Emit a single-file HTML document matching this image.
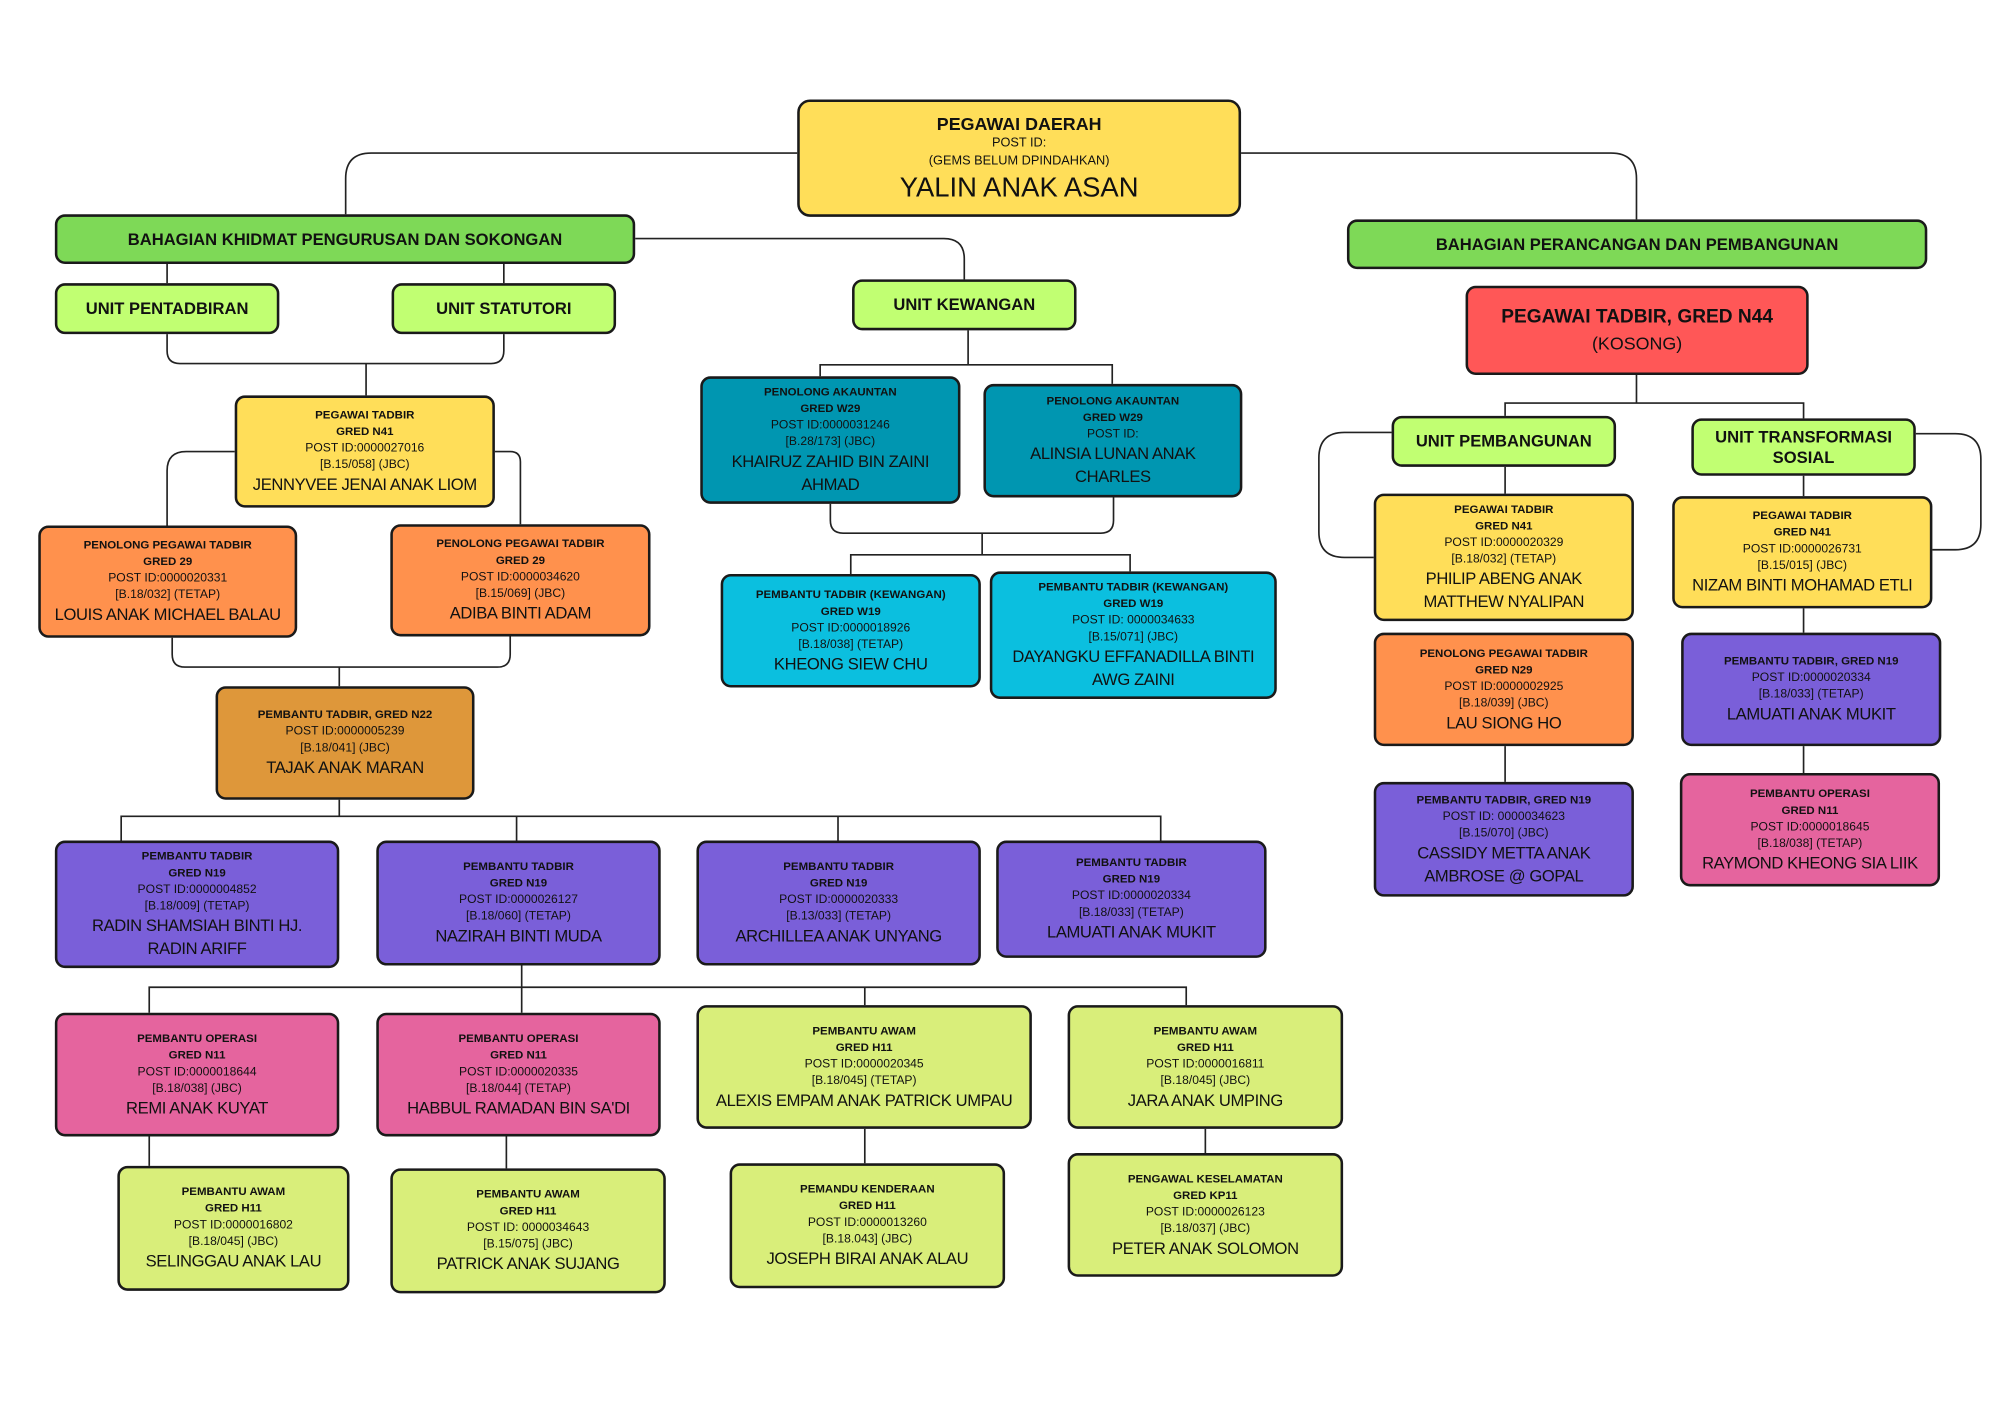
<!DOCTYPE html>
<html><head><meta charset="utf-8">
<style>
html,body{margin:0;padding:0;background:#fff;}
body{width:2000px;height:1414px;overflow:hidden;position:relative;}
#w{position:absolute;left:0;top:0;width:1568px;height:1109px;transform:scale(1.27551);transform-origin:0 0;font-family:"Liberation Sans",sans-serif;color:#111;}
svg{position:absolute;left:0;top:0;}
.b{position:absolute;box-sizing:border-box;border:2px solid #1a1a1a;border-radius:8px;display:flex;flex-direction:column;align-items:center;justify-content:center;text-align:center;line-height:13px;font-size:9.5px;}
.b b{font-size:9px;}
.b .n{font-size:13px;line-height:18px;letter-spacing:-0.3px;}
.h{font-weight:bold;font-size:13px;line-height:16px;}
.y{background:#ffde59}.g{background:#7ed957}.l{background:#c1ff72}.r{background:#ff5757}
.o{background:#ff914d}.br{background:#de973a}.p{background:#7a5fd9}.k{background:#e5649e}
.pg{background:#d9ee7a}.t{background:#0096b1}.c{background:#0bbfdf}
</style></head><body><div id="w">
<svg width="1568" height="1109" fill="none" stroke="#222" stroke-width="1.3">
<path d="M625 120 H291 Q271 120 271 140 V168"/>
<path d="M973 120 H1263 Q1283 120 1283 140 V172"/>
<path d="M498 187 H740 Q756 187 756 203 V219"/>
<path d="M131 207 V222 M395 207 V222"/>
<path d="M131 262 V275 Q131 285 141 285 H385 Q395 285 395 275 V262 M287 285 V310"/>
<path d="M184 354 H146 Q131 354 131 369 V412 M388 354 H400 Q408 354 408 362 V411"/>
<path d="M135 500 V513 Q135 523 145 523 H390 Q400 523 400 513 V499 M266 523 V538"/>
<path d="M266 627 V640 M95 659 V640 H910 V659 M405 640 V659 M657 640 V659"/>
<path d="M409 757 V774 M117 794 V774 H930 V788 M409 774 V794 M678 774 V788"/>
<path d="M117 891 V914 M397 891 V916 M678 885 V912 M945 885 V904"/>
<path d="M759 259 V286 M643 295 V286 H872 V301"/>
<path d="M651 395 V408 Q651 418 661 418 H863 Q873 418 873 408 V390 M770 418 V435 M667 450 V435 H886 V448"/>
<path d="M1283 294 V316 M1180 326 V316 H1414 V328"/>
<path d="M1091 339 H1054 Q1034 339 1034 359 V417 Q1034 437 1054 437 H1077"/>
<path d="M1502 340 H1533 Q1553 340 1553 360 V411 Q1553 431 1533 431 H1515"/>
<path d="M1180 366 V387 M1414 373 V389 M1180 585 V613 M1414 477 V496 M1414 585 V606"/>
</svg>

<div class="b y" style="left:625px;top:78px;width:348px;height:92px;border-radius:10px"><div style="font-weight:bold;font-size:14px;line-height:18px">PEGAWAI DAERAH</div><div style="font-size:10px;line-height:14px">POST ID:</div><div style="font-size:10px;line-height:14px">(GEMS BELUM DPINDAHKAN)</div><div style="font-size:21.5px;line-height:26px">YALIN ANAK ASAN</div></div>

<div class="b g h" style="left:43px;top:168px;width:455px;height:39px">BAHAGIAN KHIDMAT PENGURUSAN DAN SOKONGAN</div>
<div class="b g h" style="left:1056px;top:172px;width:455px;height:39px">BAHAGIAN PERANCANGAN DAN PEMBANGUNAN</div>
<div class="b l h" style="left:43px;top:222px;width:176px;height:40px">UNIT PENTADBIRAN</div>
<div class="b l h" style="left:307px;top:222px;width:176px;height:40px">UNIT STATUTORI</div>
<div class="b l h" style="left:668px;top:219px;width:176px;height:40px">UNIT KEWANGAN</div>
<div class="b r" style="left:1149px;top:224px;width:269px;height:70px"><div style="font-weight:bold;font-size:15px;line-height:20px">PEGAWAI TADBIR, GRED N44</div><div style="font-size:14px;line-height:20px">(KOSONG)</div></div>
<div class="b l h" style="left:1091px;top:326px;width:176px;height:40px">UNIT PEMBANGUNAN</div>
<div class="b l h" style="left:1326px;top:328px;width:176px;height:45px">UNIT TRANSFORMASI<br>SOSIAL</div>

<div class="b y" style="left:184px;top:310px;width:204px;height:88px"><b>PEGAWAI TADBIR</b><b>GRED N41</b><div>POST ID:0000027016</div><div>[B.15/058] (JBC)</div><div class="n">JENNYVEE JENAI ANAK LIOM</div></div>
<div class="b o" style="left:30px;top:412px;width:203px;height:88px"><b>PENOLONG PEGAWAI TADBIR</b><b>GRED 29</b><div>POST ID:0000020331</div><div>[B.18/032] (TETAP)</div><div class="n">LOUIS ANAK MICHAEL BALAU</div></div>
<div class="b o" style="left:306px;top:411px;width:204px;height:88px"><b>PENOLONG PEGAWAI TADBIR</b><b>GRED 29</b><div>POST ID:0000034620</div><div>[B.15/069] (JBC)</div><div class="n">ADIBA BINTI ADAM</div></div>
<div class="b br" style="left:169px;top:538px;width:203px;height:89px"><b>PEMBANTU TADBIR, GRED N22</b><div>POST ID:0000005239</div><div>[B.18/041] (JBC)</div><div class="n">TAJAK ANAK MARAN</div></div>

<div class="b p" style="left:43px;top:659px;width:223px;height:100px"><b>PEMBANTU TADBIR</b><b>GRED N19</b><div>POST ID:0000004852</div><div>[B.18/009] (TETAP)</div><div class="n">RADIN SHAMSIAH BINTI HJ.<br>RADIN ARIFF</div></div>
<div class="b p" style="left:295px;top:659px;width:223px;height:98px"><b>PEMBANTU TADBIR</b><b>GRED N19</b><div>POST ID:0000026127</div><div>[B.18/060] (TETAP)</div><div class="n">NAZIRAH BINTI MUDA</div></div>
<div class="b p" style="left:546px;top:659px;width:223px;height:98px"><b>PEMBANTU TADBIR</b><b>GRED N19</b><div>POST ID:0000020333</div><div>[B.13/033] (TETAP)</div><div class="n">ARCHILLEA ANAK UNYANG</div></div>
<div class="b p" style="left:781px;top:659px;width:212px;height:92px"><b>PEMBANTU TADBIR</b><b>GRED N19</b><div>POST ID:0000020334</div><div>[B.18/033] (TETAP)</div><div class="n">LAMUATI ANAK MUKIT</div></div>

<div class="b k" style="left:43px;top:794px;width:223px;height:97px"><b>PEMBANTU OPERASI</b><b>GRED N11</b><div>POST ID:0000018644</div><div>[B.18/038] (JBC)</div><div class="n">REMI ANAK KUYAT</div></div>
<div class="b k" style="left:295px;top:794px;width:223px;height:97px"><b>PEMBANTU OPERASI</b><b>GRED N11</b><div>POST ID:0000020335</div><div>[B.18/044] (TETAP)</div><div class="n">HABBUL RAMADAN BIN SA'DI</div></div>
<div class="b pg" style="left:546px;top:788px;width:263px;height:97px"><b>PEMBANTU AWAM</b><b>GRED H11</b><div>POST ID:0000020345</div><div>[B.18/045] (TETAP)</div><div class="n">ALEXIS EMPAM ANAK PATRICK UMPAU</div></div>
<div class="b pg" style="left:837px;top:788px;width:216px;height:97px"><b>PEMBANTU AWAM</b><b>GRED H11</b><div>POST ID:0000016811</div><div>[B.18/045] (JBC)</div><div class="n">JARA ANAK UMPING</div></div>

<div class="b pg" style="left:92px;top:914px;width:182px;height:98px"><b>PEMBANTU AWAM</b><b>GRED H11</b><div>POST ID:0000016802</div><div>[B.18/045] (JBC)</div><div class="n">SELINGGAU ANAK LAU</div></div>
<div class="b pg" style="left:306px;top:916px;width:216px;height:98px"><b>PEMBANTU AWAM</b><b>GRED H11</b><div>POST ID: 0000034643</div><div>[B.15/075] (JBC)</div><div class="n">PATRICK ANAK SUJANG</div></div>
<div class="b pg" style="left:572px;top:912px;width:216px;height:98px"><b>PEMANDU KENDERAAN</b><b>GRED H11</b><div>POST ID:0000013260</div><div>[B.18.043] (JBC)</div><div class="n">JOSEPH BIRAI ANAK ALAU</div></div>
<div class="b pg" style="left:837px;top:904px;width:216px;height:97px"><b>PENGAWAL KESELAMATAN</b><b>GRED KP11</b><div>POST ID:0000026123</div><div>[B.18/037] (JBC)</div><div class="n">PETER ANAK SOLOMON</div></div>

<div class="b t" style="left:549px;top:295px;width:204px;height:100px"><b>PENOLONG AKAUNTAN</b><b>GRED W29</b><div>POST ID:0000031246</div><div>[B.28/173] (JBC)</div><div class="n">KHAIRUZ ZAHID BIN ZAINI<br>AHMAD</div></div>
<div class="b t" style="left:771px;top:301px;width:203px;height:89px"><b>PENOLONG AKAUNTAN</b><b>GRED W29</b><div>POST ID:</div><div class="n">ALINSIA LUNAN ANAK<br>CHARLES</div></div>
<div class="b c" style="left:565px;top:450px;width:204px;height:89px"><b>PEMBANTU TADBIR (KEWANGAN)</b><b>GRED W19</b><div>POST ID:0000018926</div><div>[B.18/038] (TETAP)</div><div class="n">KHEONG SIEW CHU</div></div>
<div class="b c" style="left:776px;top:448px;width:225px;height:100px"><b>PEMBANTU TADBIR (KEWANGAN)</b><b>GRED W19</b><div>POST ID: 0000034633</div><div>[B.15/071] (JBC)</div><div class="n">DAYANGKU EFFANADILLA BINTI<br>AWG ZAINI</div></div>

<div class="b y" style="left:1077px;top:387px;width:204px;height:100px"><b>PEGAWAI TADBIR</b><b>GRED N41</b><div>POST ID:0000020329</div><div>[B.18/032] (TETAP)</div><div class="n">PHILIP ABENG ANAK<br>MATTHEW NYALIPAN</div></div>
<div class="b y" style="left:1311px;top:389px;width:204px;height:88px"><b>PEGAWAI TADBIR</b><b>GRED N41</b><div>POST ID:0000026731</div><div>[B.15/015] (JBC)</div><div class="n">NIZAM BINTI MOHAMAD ETLI</div></div>
<div class="b o" style="left:1077px;top:496px;width:204px;height:89px"><b>PENOLONG PEGAWAI TADBIR</b><b>GRED N29</b><div>POST ID:0000002925</div><div>[B.18/039] (JBC)</div><div class="n">LAU SIONG HO</div></div>
<div class="b p" style="left:1077px;top:613px;width:204px;height:90px"><b>PEMBANTU TADBIR, GRED N19</b><div>POST ID: 0000034623</div><div>[B.15/070] (JBC)</div><div class="n">CASSIDY METTA ANAK<br>AMBROSE @ GOPAL</div></div>
<div class="b p" style="left:1318px;top:496px;width:204px;height:89px"><b>PEMBANTU TADBIR, GRED N19</b><div>POST ID:0000020334</div><div>[B.18/033] (TETAP)</div><div class="n">LAMUATI ANAK MUKIT</div></div>
<div class="b k" style="left:1317px;top:606px;width:204px;height:89px"><b>PEMBANTU OPERASI</b><b>GRED N11</b><div>POST ID:0000018645</div><div>[B.18/038] (TETAP)</div><div class="n">RAYMOND KHEONG SIA LIIK</div></div>
</div></body></html>
